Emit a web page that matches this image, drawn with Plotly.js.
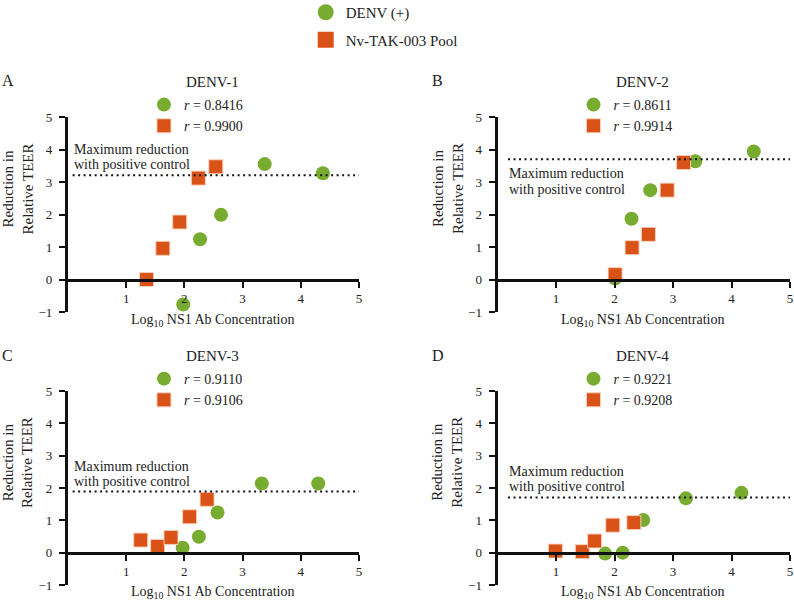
<!DOCTYPE html>
<html><head><meta charset="utf-8">
<script src="https://cdn.plot.ly/plotly-3.0.1.min.js"></script>
<style>html,body{margin:0;padding:0;background:#fff}</style>
</head><body><div id="chart" style="width:794px;height:604px"></div>
<script>
// ---- data ----
const panelTitles = ['DENV-1', 'DENV-2', 'DENV-3', 'DENV-4'];
const panelLetters = ['A', 'B', 'C', 'D'];
const seriesNames = ['DENV (+)', 'Nv-TAK-003 Pool'];

const denv1PosX = [1.98, 2.27, 2.63, 3.38, 4.38];
const denv1PosY = [-0.77, 1.24, 1.99, 3.55, 3.27];
const denv1PoolX = [1.35, 1.63, 1.92, 2.24, 2.54];
const denv1PoolY = [0.00, 0.96, 1.77, 3.12, 3.47];

const denv2PosX = [2.01, 2.29, 2.61, 3.38, 4.38];
const denv2PosY = [0.03, 1.87, 2.75, 3.64, 3.94];
const denv2PoolX = [2.01, 2.30, 2.58, 2.90, 3.18];
const denv2PoolY = [0.15, 0.98, 1.39, 2.75, 3.60];

const denv3PosX = [1.97, 2.25, 2.57, 3.33, 4.30];
const denv3PosY = [0.15, 0.49, 1.24, 2.14, 2.14];
const denv3PoolX = [1.25, 1.54, 1.77, 2.09, 2.39];
const denv3PoolY = [0.39, 0.19, 0.47, 1.11, 1.65];

const denv4PosX = [1.84, 2.14, 2.49, 3.22, 4.17];
const denv4PosY = [-0.03, 0.00, 1.01, 1.68, 1.85];
const denv4PoolX = [0.99, 1.45, 1.66, 1.97, 2.33];
const denv4PoolY = [0.05, 0.03, 0.36, 0.85, 0.93];

const rPos = ['0.8416', '0.8611', '0.9110', '0.9221'];
const rPool = ['0.9900', '0.9914', '0.9106', '0.9208'];
const maxReduction = [3.21, 3.70, 1.89, 1.71];
const maxLineStart = [0.08, 0.18, 0.08, 0.18];
const maxLineEnd = [5, 5, 5, 5];
const maxLabelLines = ['Maximum reduction', 'with positive control'];

const xTicks = [1, 2, 3, 4, 5];
const yTicks = [-1, 0, 1, 2, 3, 4, 5];

// ---- styling ----
const GREEN = '#77AC30';
const ORANGE = '#D95319';
const FONT = 'Liberation Serif, Times New Roman, serif';
const TXT = '#222';

const posData = [[denv1PosX, denv1PosY], [denv2PosX, denv2PosY], [denv3PosX, denv3PosY], [denv4PosX, denv4PosY]];
const poolData = [[denv1PoolX, denv1PoolY], [denv2PoolX, denv2PoolY], [denv3PoolX, denv3PoolY], [denv4PoolX, denv4PoolY]];

const xDom = [[0.0856, 0.4521], [0.6266, 0.995], [0.0856, 0.4521], [0.6266, 0.995]];
const yDom = [[0.4834, 0.8063], [0.4834, 0.8063], [0.0315, 0.3526], [0.0315, 0.3526]];
// label placement (pixels relative to the dotted line): above for A, C, D; below for B
const labelShift = [[25.5, 10.5], [-14, -30], [25.5, 10.5], [25.5, 10.5]];

const traces = [];
// top legend entries (legend-only traces)
traces.push({x: [null], y: [null], type: 'scatter', mode: 'markers', name: seriesNames[0],
  marker: {symbol: 'circle', color: GREEN, size: 18}, legend: 'legend', legendgroup: 'g1', xaxis: 'x', yaxis: 'y'});
traces.push({x: [null], y: [null], type: 'scatter', mode: 'markers', name: seriesNames[1],
  marker: {symbol: 'square', color: ORANGE, size: 18}, legend: 'legend', legendgroup: 'g2', xaxis: 'x', yaxis: 'y'});

const layout = {
  width: 794, height: 604,
  margin: {l: 0, r: 0, t: 0, b: 0, autoexpand: false},
  paper_bgcolor: '#fff', plot_bgcolor: 'rgba(0,0,0,0)',
  font: {family: FONT, color: TXT, size: 13},
  annotations: [],
  legend: {x: 0.385, y: 1 + 4 / 604, xanchor: 'left', yanchor: 'top', bgcolor: 'rgba(0,0,0,0)',
    font: {family: FONT, size: 15, color: TXT}, traceorder: 'grouped', tracegroupgap: 5, itemsizing: 'trace'}
};

for (let i = 0; i < 4; i++) {
  const s = i === 0 ? '' : String(i + 1);
  const xa = 'x' + s, ya = 'y' + s;
  const lg = 'legend' + (i + 2);
  traces.push({x: posData[i][0], y: posData[i][1], type: 'scatter', mode: 'markers',
    name: '<i>r</i> = ' + rPos[i], xaxis: xa, yaxis: ya, legend: lg, legendgroup: 'p' + i + 'a',
    marker: {symbol: 'circle', color: GREEN, size: 14}, cliponaxis: false});
  traces.push({x: poolData[i][0], y: poolData[i][1], type: 'scatter', mode: 'markers',
    name: '<i>r</i> = ' + rPool[i], xaxis: xa, yaxis: ya, legend: lg, legendgroup: 'p' + i + 'b',
    marker: {symbol: 'square', color: ORANGE, size: 14, line: {color: 'rgba(255,210,190,0.9)', width: 1}}, cliponaxis: false});
  traces.push({x: [maxLineStart[i], maxLineEnd[i]], y: [maxReduction[i], maxReduction[i]], type: 'scatter', mode: 'lines',
    xaxis: xa, yaxis: ya, showlegend: false, hoverinfo: 'skip',
    line: {color: '#111', width: 2, dash: '2px,3.5px'}});

  const yd = yDom[i];
  layout['xaxis' + s] = {
    domain: xDom[i], range: [0, 5], anchor: 'free',
    position: yd[0] + (yd[1] - yd[0]) / 6,
    showline: true, linewidth: 3, linecolor: '#111', showgrid: false, zeroline: false,
    ticks: 'outside', ticklen: 6, tickwidth: 2, tickcolor: '#111',
    tickvals: xTicks, tickfont: {family: FONT, size: 13, color: TXT}, fixedrange: true
  };
  layout['yaxis' + s] = {
    domain: yd, range: [-1, 5], anchor: xa,
    showline: true, linewidth: 3, linecolor: '#111', showgrid: false, zeroline: false,
    ticks: 'outside', ticklen: 6, tickwidth: 2, tickcolor: '#111',
    tickvals: yTicks, tickfont: {family: FONT, size: 13, color: TXT}, ticklabelstandoff: 4, fixedrange: true
  };

  const xl = xDom[i][0];
  const xr = xDom[i][1];
  const xmid = xl + (xr - xl) * 0.497;
  const topPx = (1 - yd[1]) * 604;
  // panel title
  layout.annotations.push({xref: 'paper', yref: 'paper', x: xmid, y: 1 - (topPx - 35) / 604,
    text: panelTitles[i], showarrow: false, font: {family: FONT, size: 15, color: TXT}, xanchor: 'center', yanchor: 'middle'});
  // panel letter
  layout.annotations.push({xref: 'paper', yref: 'paper', x: xl - 60 / 794, y: 1 - (topPx - 36) / 604,
    text: panelLetters[i], showarrow: false, font: {family: FONT, size: 16, color: TXT}, xanchor: 'center', yanchor: 'middle'});
  // x title
  layout.annotations.push({xref: 'paper', yref: 'paper', x: xmid, y: yd[0] - 8 / 604,
    text: 'Log<sub>10</sub> NS1 Ab Concentration', showarrow: false, font: {family: FONT, size: 14, color: TXT},
    xanchor: 'center', yanchor: 'middle'});
  // y title
  layout.annotations.push({xref: 'paper', yref: ya, x: xl - 50 / 794, y: 2.8,
    text: 'Reduction in<br>Relative TEER', showarrow: false, textangle: -90, font: {family: FONT, size: 15, color: TXT},
    xanchor: 'center', yanchor: 'middle'});
  // max reduction label (two lines, tight spacing)
  for (let k = 0; k < 2; k++) {
    layout.annotations.push({xref: xa, yref: ya, x: maxLineStart[i] - 0.01, y: maxReduction[i], yshift: labelShift[i][k],
      text: maxLabelLines[k], showarrow: false, align: 'left',
      font: {family: FONT, size: 14, color: TXT}, xanchor: 'left', yanchor: 'middle'});
  }

  layout[lg] = {x: xl + 76 / 794, y: 1 - (topPx - 28) / 604, xanchor: 'left', yanchor: 'top', bgcolor: 'rgba(0,0,0,0)',
    font: {family: FONT, size: 14, color: TXT}, traceorder: 'grouped', tracegroupgap: 0, itemsizing: 'trace'};
}

Plotly.newPlot('chart', traces, layout, {displayModeBar: false, staticPlot: true});
</script>
</body></html>
